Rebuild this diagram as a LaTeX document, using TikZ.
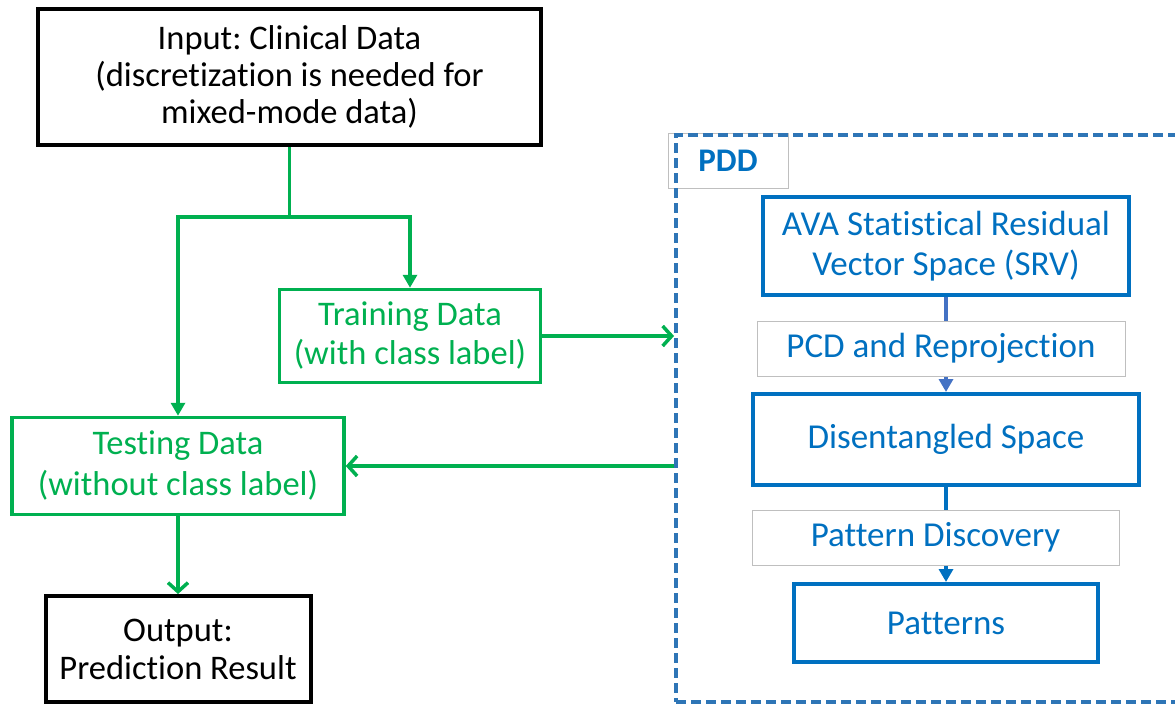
\documentclass[tikz,border=0pt]{standalone}
\usepackage{fontspec}
\setmainfont[Ligatures=NoCommon]{Carlito}
\frenchspacing
\usepackage{tikz}
\usetikzlibrary{arrows.meta}
\definecolor{grn}{HTML}{00B050}
\definecolor{blu}{HTML}{0070C0}
\definecolor{dashblu}{HTML}{2E75B6}
\definecolor{lightblu}{HTML}{4472C4}
\definecolor{lgray}{HTML}{BFBFBF}

\begin{document}
\begin{tikzpicture}[x=1pt, y=-1pt,
        txt/.style = {align=center, inner sep=0pt, font=\fontsize{34.5}{37}\selectfont},
        main/.style = {txt, draw, line width=4pt},
        data/.style = {txt, draw=grn, text=grn, line width=3.5pt},
        pdd/.style = {txt, draw=blu, text=blu, line width=4pt, font=\fontsize{35}{40}\selectfont},
        step box/.style = {pdd, draw=lgray, fill=white, line width=1pt},
        flow/.style = {grn, line width=3.5pt},
        head/.style = {-{Triangle[length=13pt, width=14pt]}},
        barb/.style = {-{Straight Barb[length=9pt, width=20pt, line width=3.5pt]}}]
    \useasboundingbox (0,0) rectangle (1175,705);
    \clip (0,0) rectangle (1175,705);

    % left side
    \node[main, minimum width=503pt, minimum height=136pt] (input) at (289.5,77)
        {Input: Clinical Data\\(discretization is needed for\\mixed-mode data)};
    \node[data, minimum width=261pt, minimum height=93pt, font=\fontsize{34.5}{39}\selectfont] (train) at (410,336)
        {Training Data\\(with class label)};
    \node[data, minimum width=332pt, minimum height=97pt, font=\fontsize{34.5}{41}\selectfont] (test) at (178,466)
        {Testing Data\\(without class label)};
    \node[main, minimum width=265pt, minimum height=106pt, font=\fontsize{34.5}{38}\selectfont] (output) at (178,649)
        {Output:\\Prediction Result};
    \coordinate (split) at (289.5,217);

    % PDD frame
    \node[draw=lgray, line width=1pt, minimum width=120pt, minimum height=55pt,
          text=blu, font=\fontsize{33}{38}\selectfont\bfseries] (pddlabel) at (728,160.5) {PDD};
    \node[draw=dashblu, line width=4pt, dash pattern=on 10pt off 5pt,
          minimum width=560pt, minimum height=567pt] (pddbox) at (956,418.5) {};

    \node[pdd, minimum width=366pt, minimum height=98pt] (srv) at (946,246)
        {AVA Statistical Residual\\Vector Space (SRV)};
    \node[pdd, minimum width=386pt, minimum height=91pt] (dis) at (946,439.5)
        {Disentangled Space};
    \node[pdd, minimum width=304pt, minimum height=78pt] (pat) at (946,623)
        {Patterns};

    \draw[lightblu, line width=3.5pt, head] (srv) -- (dis);
    \draw[blu, line width=3.5pt, head] (dis) -- (pat);
    \node[step box, minimum width=368pt, minimum height=55pt] (pcd) at (941,348.5)
        {PCD and Reprojection};
    \node[step box, minimum width=367pt, minimum height=55pt] (disc) at (935.5,537.5)
        {Pattern Discovery};

    % data flow
    \draw[flow] (input.south -| split) -- (split);
    \draw[flow, head] (split) -| (test.north);
    \draw[flow, head] (split) -| (train.north);
    \draw[flow, barb] (train.east) -- (train.east -| pddbox.west);
    \draw[flow, barb] (test.east -| pddbox.west) -- (test.east);
    \draw[flow, barb] (test) -- (output);
\end{tikzpicture}
\end{document}
